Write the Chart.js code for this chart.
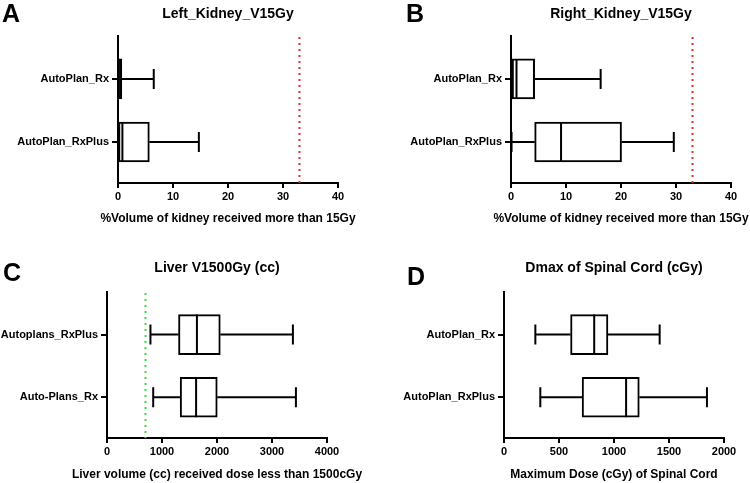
<!DOCTYPE html>
<html><head><meta charset="utf-8">
<script src="https://cdn.jsdelivr.net/npm/chart.js@4.4.1/dist/chart.umd.min.js"></script>
<style>
html,body{margin:0;padding:0;background:#fff;}
body{width:750px;height:483px;position:relative;overflow:hidden;}
.p{position:absolute;}
</style></head><body>
<div class="p" style="left:0;top:0;width:375px;height:235px"><canvas id="cA"></canvas></div>
<div class="p" style="left:375px;top:0;width:375px;height:235px"><canvas id="cB"></canvas></div>
<div class="p" style="left:0;top:235px;width:375px;height:248px"><canvas id="cC"></canvas></div>
<div class="p" style="left:375px;top:235px;width:375px;height:248px"><canvas id="cD"></canvas></div>
<script>
const FONT = '"Liberation Sans", Arial, Helvetica, sans-serif';

// ---- Panel A: Left_Kidney_V15Gy ----
const A_letter = 'A';
const A_title = 'Left_Kidney_V15Gy';
const A_axisTitle = '%Volume of kidney received more than 15Gy';
const A_categories = ['AutoPlan_Rx', 'AutoPlan_RxPlus'];
const A_min = [0, 0];
const A_q1 = [0.1, 0.1];
const A_median = [0.4, 0.8];
const A_q3 = [0.7, 5.7];
const A_max = [6.5, 14.7];
const A_ref = 33;
const A_xTicks = [0, 10, 20, 30, 40];

// ---- Panel B: Right_Kidney_V15Gy ----
const B_letter = 'B';
const B_title = 'Right_Kidney_V15Gy';
const B_axisTitle = '%Volume of kidney received more than 15Gy';
const B_categories = ['AutoPlan_Rx', 'AutoPlan_RxPlus'];
const B_min = [0, 0.1];
const B_q1 = [0.2, 4.3];
const B_median = [1.0, 9.1];
const B_q3 = [4.3, 20.1];
const B_max = [16.3, 29.6];
const B_ref = 33;
const B_xTicks = [0, 10, 20, 30, 40];

// ---- Panel C: Liver V1500Gy (cc) ----
const C_letter = 'C';
const C_title = 'Liver V1500Gy (cc)';
const C_axisTitle = 'Liver volume (cc) received dose less than 1500cGy';
const C_categories = ['Autoplans_RxPlus', 'Auto-Plans_Rx'];
const C_min = [790, 840];
const C_q1 = [1300, 1330];
const C_median = [1635, 1620];
const C_q3 = [2060, 2005];
const C_max = [3380, 3435];
const C_ref = 700;
const C_xTicks = [0, 1000, 2000, 3000, 4000];

// ---- Panel D: Dmax of Spinal Cord (cGy) ----
const D_letter = 'D';
const D_title = 'Dmax of Spinal Cord (cGy)';
const D_axisTitle = 'Maximum Dose (cGy) of Spinal Cord';
const D_categories = ['AutoPlan_Rx', 'AutoPlan_RxPlus'];
const D_min = [285, 330];
const D_q1 = [605, 710];
const D_median = [820, 1110];
const D_q3 = [945, 1230];
const D_max = [1415, 1845];
const D_xTicks = [0, 500, 1000, 1500, 2000];

function makePlugin(P) {
  return {
    id: 'boxWhisker' + P.letter,
    beforeDatasetsDraw(chart) {
      if (P.ref == null) return;
      const xs = chart.scales.x, a = chart.chartArea, ctx = chart.ctx;
      const x = xs.getPixelForValue(P.ref);
      ctx.save();
      ctx.strokeStyle = P.refColor;
      ctx.lineWidth = 2;
      ctx.setLineDash([2, 4]);
      ctx.beginPath();
      ctx.moveTo(x, a.top + 1);
      ctx.lineTo(x, a.bottom);
      ctx.stroke();
      ctx.restore();
    },
    afterDatasetsDraw(chart) {
      const xs = chart.scales.x, ys = chart.scales.y, ctx = chart.ctx;
      ctx.save();
      ctx.strokeStyle = '#000';
      ctx.lineWidth = 2;
      ctx.lineCap = 'butt';
      P.cats.forEach((c, i) => {
        const y = ys.getPixelForValue(i + 1);
        const xmin = xs.getPixelForValue(P.min[i]);
        const xq1 = xs.getPixelForValue(P.q1[i]);
        const xmed = xs.getPixelForValue(P.median[i]);
        const xq3 = xs.getPixelForValue(P.q3[i]);
        const xmax = xs.getPixelForValue(P.max[i]);
        ctx.beginPath();
        ctx.moveTo(xmin, y); ctx.lineTo(xq1, y);
        ctx.moveTo(xq3, y); ctx.lineTo(xmax, y);
        ctx.moveTo(xmin, y - 10); ctx.lineTo(xmin, y + 10);
        ctx.moveTo(xmax, y - 10); ctx.lineTo(xmax, y + 10);
        ctx.moveTo(xmed, y - 20); ctx.lineTo(xmed, y + 20);
        ctx.stroke();
      });
      ctx.restore();
    },
    afterDraw(chart) {
      const a = chart.chartArea, ctx = chart.ctx;
      const cx = (a.left + a.right) / 2;
      ctx.save();
      ctx.fillStyle = '#000';
      ctx.textAlign = 'center';
      ctx.textBaseline = 'middle';
      ctx.font = 'bold 14px ' + FONT;
      ctx.fillText(P.title, cx, P.titleY);
      ctx.font = 'bold 12px ' + FONT;
      ctx.fillText(P.axisTitle, cx, P.axisTitleY);
      ctx.textAlign = 'left';
      ctx.textBaseline = 'alphabetic';
      ctx.font = 'bold 25px ' + FONT;
      ctx.fillText(P.letter, P.letterX, P.letterY);
      ctx.restore();
    }
  };
}

function makeChart(id, P) {
  const W = P.w, H = P.h, A = P.area;
  const tickFont = { family: FONT, size: 11, weight: 'bold' };
  return new Chart(document.getElementById(id), {
    type: 'bar',
    data: {
      datasets: [{
        data: P.cats.map((c, i) => ({ x: [P.q1[i], P.q3[i]], y: i + 1 })),
        backgroundColor: '#fff',
        borderColor: '#000',
        borderWidth: 2,
        borderSkipped: false,
        barThickness: 40
      }]
    },
    options: {
      indexAxis: 'y',
      responsive: true,
      maintainAspectRatio: false,
      animation: false,
      events: [],
      layout: { padding: { left: 0, right: W - A.right, top: A.top, bottom: 0 } },
      plugins: { legend: { display: false }, tooltip: { enabled: false }, title: { display: false } },
      scales: {
        x: {
          type: 'linear', position: 'bottom', offset: false,
          min: P.xTicks[0], max: P.xTicks[P.xTicks.length - 1],
          afterBuildTicks(s) { s.ticks = P.xTicks.map(v => ({ value: v })); },
          afterFit(s) { s.height = H - A.bottom; },
          grid: { offset: false, drawOnChartArea: false, drawTicks: true, tickLength: 5, color: '#000', lineWidth: 2 },
          border: { display: true, color: '#000', width: 2 },
          ticks: { color: '#000', font: tickFont, padding: 2, maxRotation: 0, autoSkip: false,
                   callback: (v) => String(v) }
        },
        y: {
          type: 'linear', position: 'left', reverse: true, offset: false,
          min: 0.32, max: 2.65,
          afterBuildTicks(s) { s.ticks = P.cats.map((c, i) => ({ value: i + 1 })); },
          afterFit(s) { s.width = A.left; },
          grid: { offset: false, drawOnChartArea: false, drawTicks: true, tickLength: 6, color: '#000', lineWidth: 2 },
          border: { display: true, color: '#000', width: 2 },
          ticks: { color: '#000', font: tickFont, padding: 3, autoSkip: false,
                   callback: (v) => P.cats[Math.round(v) - 1] }
        }
      }
    },
    plugins: [makePlugin(P)]
  });
}

makeChart('cA', { letter: A_letter, title: A_title, axisTitle: A_axisTitle, cats: A_categories,
  min: A_min, q1: A_q1, median: A_median, q3: A_q3, max: A_max, ref: A_ref, refColor: '#e0302e', xTicks: A_xTicks,
  w: 375, h: 235, area: { left: 118, right: 338, top: 36, bottom: 183 },
  titleY: 14.5, axisTitleY: 219, letterX: 2, letterY: 22 });

makeChart('cB', { letter: B_letter, title: B_title, axisTitle: B_axisTitle, cats: B_categories,
  min: B_min, q1: B_q1, median: B_median, q3: B_q3, max: B_max, ref: B_ref, refColor: '#e0302e', xTicks: B_xTicks,
  w: 375, h: 235, area: { left: 136, right: 356, top: 36, bottom: 183 },
  titleY: 14.5, axisTitleY: 219, letterX: 31, letterY: 22 });

makeChart('cC', { letter: C_letter, title: C_title, axisTitle: C_axisTitle, cats: C_categories,
  min: C_min, q1: C_q1, median: C_median, q3: C_q3, max: C_max, ref: C_ref, refColor: '#3fdc3f', xTicks: C_xTicks,
  w: 375, h: 248, area: { left: 107, right: 327, top: 57, bottom: 203 },
  titleY: 33.5, axisTitleY: 239.5, letterX: 3, letterY: 46 });

makeChart('cD', { letter: D_letter, title: D_title, axisTitle: D_axisTitle, cats: D_categories,
  min: D_min, q1: D_q1, median: D_median, q3: D_q3, max: D_max, ref: null, refColor: null, xTicks: D_xTicks,
  w: 375, h: 248, area: { left: 129, right: 349, top: 57, bottom: 203 },
  titleY: 33.5, axisTitleY: 239.5, letterX: 32, letterY: 50 });
</script>
</body></html>
